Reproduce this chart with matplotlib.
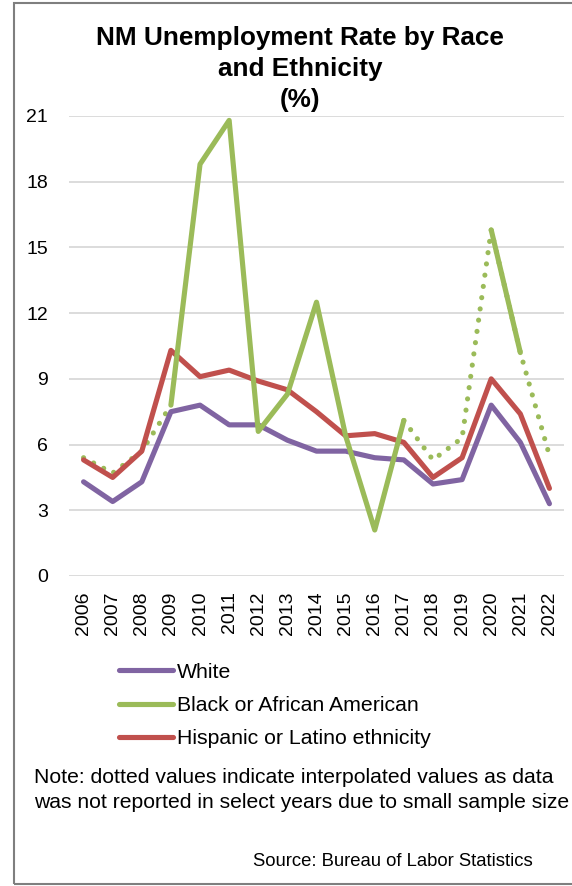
import numpy as np
import matplotlib
matplotlib.use("Agg")
import matplotlib.pyplot as plt
from matplotlib.patches import Rectangle

plt.rcParams['font.family'] = ['Liberation Sans', 'DejaVu Sans']

years = [str(y) for y in range(2006, 2023)]
white = [4.3, 3.4, 4.3, 7.5, 7.8, 6.9, 6.9, 6.2, 5.7, 5.7, 5.4, 5.3, 4.2, 4.4, 7.8, 6.1, 3.3]
black = [5.4, 4.7, 5.7, 7.8, 18.8, 20.8, 6.6, 8.3, 12.5, 6.4, 2.1, 7.1, 5.3, 6.3, 15.8, 10.2, 5.5]
hispanic = [5.3, 4.5, 5.7, 10.3, 9.1, 9.4, 8.9, 8.5, 7.5, 6.4, 6.5, 6.1, 4.5, 5.4, 9.0, 7.4, 4.0]
# years where the black series was actually reported (others interpolated)
black_reported = [False, False, False, True, True, True, True, True, True,
                  True, True, True, False, False, True, True, False]

c_white = '#8064A2'
c_black = '#9BBB59'
c_hisp = '#C0504D'

fig = plt.figure(figsize=(5.72, 8.86), dpi=100)
ax = fig.add_axes([69/572, 1 - 576/886, (564 - 69)/572, (576 - 116)/886])

x = np.arange(len(years))
b = np.array(black, dtype=float)
rep = np.array(black_reported)

# solid where both ends reported, dotted where either end is interpolated
solid = np.where(rep, b, np.nan)
dotted = np.full(len(b), np.nan)
for i in range(len(b) - 1):
    if not (rep[i] and rep[i + 1]):
        dotted[i] = b[i]
        dotted[i + 1] = b[i + 1]

lw = 3.7
ax.plot(x, dotted, color=c_black, lw=lw, linestyle=(0, (0.01, 2.2)),
        dash_capstyle='round', zorder=2)
ax.plot(x, white, color=c_white, lw=lw, solid_capstyle='round', solid_joinstyle='round', zorder=3, label='White')
ax.plot(x, solid, color=c_black, lw=lw, solid_capstyle='round', solid_joinstyle='round', zorder=4,
        label='Black or African American')
ax.plot(x, hispanic, color=c_hisp, lw=lw, solid_capstyle='round', solid_joinstyle='round', zorder=3,
        label='Hispanic or Latino ethnicity')

ax.set_xlim(-0.5, len(years) - 0.5)
ax.set_ylim(0, 21)
ax.set_yticks(range(0, 22, 3))
ax.set_xticks(x)
ax.set_xticklabels(years, rotation=90)
ax.tick_params(axis='both', length=0, labelsize=14, colors='black')
ax.tick_params(axis='y', pad=15)
ax.tick_params(axis='x', pad=11)
ax.grid(axis='y', color='#D9D9D9', lw=1.3)
ax.set_axisbelow(True)
for s in ax.spines.values():
    s.set_visible(False)

fig.text(300/572, 1 - 26/886, 'NM Unemployment Rate by Race\nand Ethnicity\n(%)', ha='center', va='top',
         fontsize=18.8, fontweight='bold', linespacing=1.37)

fig.legend(loc='upper left', bbox_to_anchor=(110/572, 1 - 654/886), frameon=False, fontsize=15.3,
           handlelength=2.55, handletextpad=0.22, labelspacing=0.68, borderaxespad=0)

fig.text(34/572, 1 - 768/886,
         'Note: dotted values indicate interpolated values as data\nwas not reported in select years due to small sample size',
         ha='left', va='top', fontsize=15.2, linespacing=1.43)
fig.text(253/572, 1 - 853/886, 'Source: Bureau of Labor Statistics', ha='left', va='top', fontsize=13.3)

fig.patches.append(Rectangle((14/572, 2/886), 1.2, 1 - 5/886, transform=fig.transFigure,
                             fill=False, edgecolor='#7F7F7F', lw=1.5))

fig.savefig('out.png', dpi=100)
